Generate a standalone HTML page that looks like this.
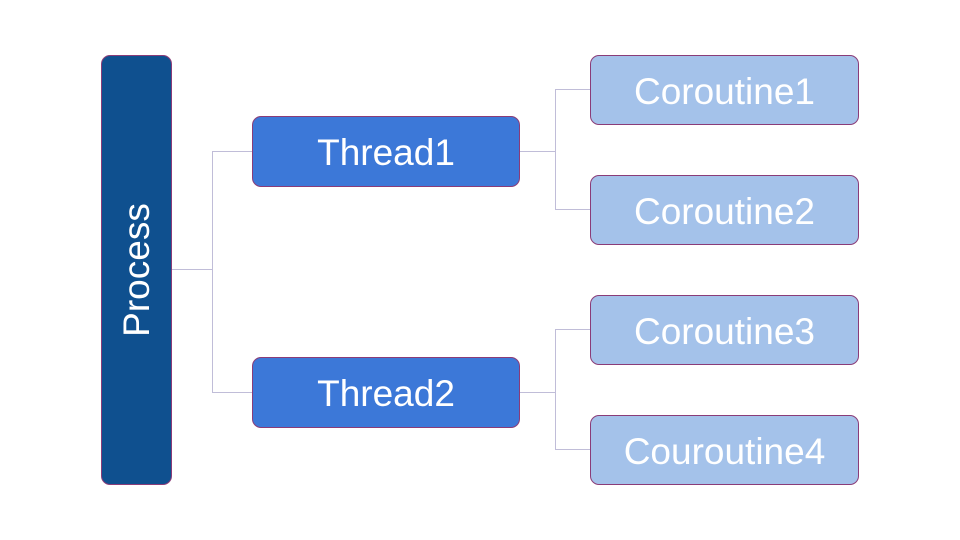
<!DOCTYPE html>
<html><head><style>
html,body{margin:0;padding:0;background:#fff;}
body{width:960px;height:540px;position:relative;overflow:hidden;font-family:"Liberation Sans",sans-serif;}
.b{position:absolute;box-sizing:border-box;border:1px solid #8a3c78;border-radius:9px;color:#fff;display:flex;align-items:center;justify-content:center;font-size:37px;padding-top:3px;}
.p{background:#0f508f;padding-top:0;}
.t{background:#3c78d8;}
.c{background:#a4c2ea;}
.l{position:absolute;background:#c0bdd8;}
</style></head><body>
<div class="l" style="left:171px;top:269px;width:41px;height:1px"></div>
<div class="l" style="left:212px;top:151px;width:1px;height:242px"></div>
<div class="l" style="left:212px;top:151px;width:40px;height:1px"></div>
<div class="l" style="left:212px;top:392px;width:40px;height:1px"></div>
<div class="l" style="left:519px;top:151px;width:36px;height:1px"></div>
<div class="l" style="left:555px;top:89px;width:1px;height:121px"></div>
<div class="l" style="left:555px;top:89px;width:35px;height:1px"></div>
<div class="l" style="left:555px;top:209px;width:35px;height:1px"></div>
<div class="l" style="left:519px;top:392px;width:36px;height:1px"></div>
<div class="l" style="left:555px;top:329px;width:1px;height:121px"></div>
<div class="l" style="left:555px;top:329px;width:35px;height:1px"></div>
<div class="l" style="left:555px;top:449px;width:35px;height:1px"></div>
<div class="b p" style="left:101px;top:55px;width:71px;height:430px"><span style="transform:rotate(-90deg);white-space:nowrap;display:inline-block">Process</span></div>
<div class="b t" style="left:252px;top:116px;width:268px;height:71px">Thread1</div>
<div class="b t" style="left:252px;top:357px;width:268px;height:71px">Thread2</div>
<div class="b c" style="left:590px;top:55px;width:269px;height:70px">Coroutine1</div>
<div class="b c" style="left:590px;top:175px;width:269px;height:70px">Coroutine2</div>
<div class="b c" style="left:590px;top:295px;width:269px;height:70px">Coroutine3</div>
<div class="b c" style="left:590px;top:415px;width:269px;height:70px">Couroutine4</div>
</body></html>
